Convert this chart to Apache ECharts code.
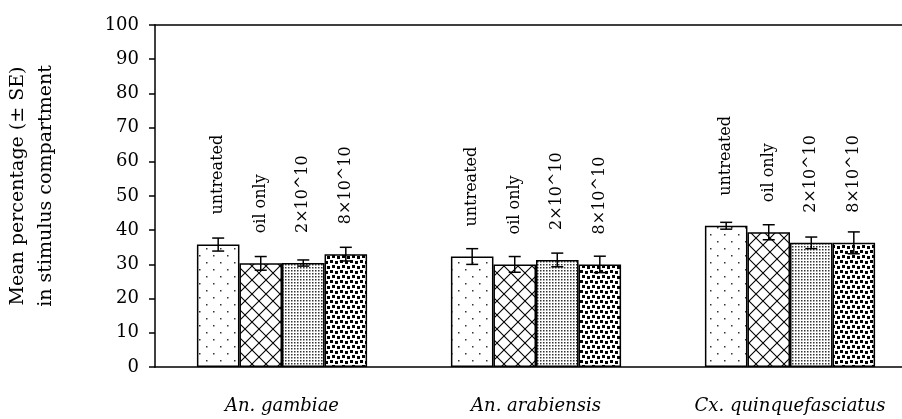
<!DOCTYPE html>
<html>
<head>
<meta charset="utf-8">
<script src="https://cdn.jsdelivr.net/npm/echarts@6.0.0/dist/echarts.min.js"></script>
<style>
  html, body { margin: 0; padding: 0; background: #fff; }
  #chart { width: 902px; height: 419px; }
</style>
</head>
<body>
<div id="chart"></div>
<script>
  // species groups on the x axis
  var species = ["An. gambiae", "An. arabiensis", "Cx. quinquefasciatus"];
  // treatments, one bar series each
  var treatments = ["untreated", "oil only", "2×10^10", "8×10^10"];
  // mean percentage per treatment (order = species)
  var untreated = [35.8, 32.3, 41.3];
  var oilOnly = [30.3, 30.0, 39.4];
  var low = [30.4, 31.3, 36.3];
  var high = [33.0, 30.0, 36.3];
  // standard errors
  var untreatedSE = [1.9, 2.3, 1.0];
  var oilOnlySE = [2.0, 2.3, 2.2];
  var lowSE = [0.9, 2.0, 1.7];
  var highSE = [2.0, 2.4, 3.2];
  var yTicks = [0, 10, 20, 30, 40, 50, 60, 70, 80, 90, 100];

  var means = [untreated, oilOnly, low, high];
  var errs = [untreatedSE, oilOnlySE, lowSE, highSE];

  // fill patterns drawn on little canvases
  function tile(w, h, draw) {
    var c = document.createElement("canvas");
    c.width = w; c.height = h;
    var ctx = c.getContext("2d");
    ctx.fillStyle = "#fff";
    ctx.fillRect(0, 0, w, h);
    ctx.fillStyle = "#000";
    ctx.strokeStyle = "#000";
    draw(ctx);
    return { image: c, repeat: "repeat" };
  }
  var patterns = [
    tile(14, 14, function (ctx) {
      ctx.fillStyle = "#333";
      ctx.fillRect(3, 3, 1.5, 1.5);
      ctx.fillRect(10, 10, 1.5, 1.5);
    }),
    tile(14, 14, function (ctx) {
      ctx.lineWidth = 1.1;
      ctx.beginPath();
      ctx.moveTo(-1, -1); ctx.lineTo(15, 15);
      ctx.moveTo(15, -1); ctx.lineTo(-1, 15);
      ctx.stroke();
    }),
    tile(3, 3, function (ctx) {
      ctx.fillStyle = "#333";
      ctx.fillRect(0, 0, 1.5, 1.5);
    }),
    tile(10, 10, function (ctx) {
      ctx.fillRect(0, 0, 3, 3);
      ctx.fillRect(5, 1, 3, 3);
      ctx.fillRect(2, 5, 3, 3);
      ctx.fillRect(7, 6, 3, 3);
    })
  ];

  var catGap = 0.33;

  var series = treatments.map(function (name, i) {
    return {
      name: name,
      type: "bar",
      barGap: "0%",
      barCategoryGap: catGap * 100 + "%",
      data: means[i],
      itemStyle: { color: patterns[i], borderColor: "#000", borderWidth: 1.5 },
      label: {
        show: true,
        position: "top",
        rotate: 90,
        align: "left",
        verticalAlign: "middle",
        distance: 30,
        formatter: name,
        fontFamily: "DejaVu Serif",
        fontSize: 16,
        color: "#000"
      },
      z: 2
    };
  });

  // error bars
  var errData = [];
  means.forEach(function (arr, s) {
    arr.forEach(function (v, c) {
      errData.push([c, v, errs[s][c], s]);
    });
  });
  series.push({
    type: "custom",
    data: errData,
    z: 5,
    renderItem: function (params, api) {
      var c = api.value(0), v = api.value(1), e = api.value(2), s = api.value(3);
      var band = api.size([1, 0])[0];
      var bw = band * (1 - catGap) / 4;
      var center = api.coord([c, v]);
      var x = center[0] + (s - 1.5) * bw;
      var yTop = api.coord([c, v + e])[1];
      var yBot = api.coord([c, v - e])[1];
      var cap = 6;
      var style = { stroke: "#000", lineWidth: 1.5 };
      return {
        type: "group",
        children: [
          { type: "line", shape: { x1: x, y1: yTop, x2: x, y2: yBot }, style: style },
          { type: "line", shape: { x1: x - cap, y1: yTop, x2: x + cap, y2: yTop }, style: style },
          { type: "line", shape: { x1: x - cap, y1: yBot, x2: x + cap, y2: yBot }, style: style }
        ]
      };
    }
  });

  var chart = echarts.init(document.getElementById("chart"));
  chart.setOption({
    animation: false,
    backgroundColor: "#fff",
    grid: {
      left: 155, top: 25, bottom: 52, width: 762,
      outerBoundsMode: "none",
      containLabel: false,
      show: false
    },
    xAxis: [{
      type: "category",
      data: species,
      axisLine: { lineStyle: { color: "#000", width: 1.5 } },
      axisTick: { length: 8, lineStyle: { color: "#000", width: 1.5 } },
      axisLabel: {
        margin: 30,
        fontFamily: "DejaVu Serif",
        fontStyle: "italic",
        fontSize: 18,
        color: "#000"
      }
    }, {
      // top frame line only
      type: "category",
      data: species,
      position: "top",
      axisLine: { show: true, lineStyle: { color: "#000", width: 1.5 } },
      axisTick: { show: false },
      axisLabel: { show: false }
    }],
    yAxis: {
      type: "value",
      min: yTicks[0],
      max: yTicks[yTicks.length - 1],
      interval: 10,
      splitLine: { show: false },
      axisLine: { show: true, lineStyle: { color: "#000", width: 1.5 } },
      axisTick: { show: true, length: 6, lineStyle: { color: "#000", width: 1.5 } },
      axisLabel: {
        margin: 16,
        fontFamily: "DejaVu Serif",
        fontSize: 18,
        color: "#000"
      },
      name: "Mean percentage (± SE)\nin stimulus compartment",
      nameLocation: "middle",
      nameRotate: 90,
      nameGap: 95,
      nameTextStyle: {
        fontFamily: "DejaVu Serif",
        fontSize: 19,
        lineHeight: 28,
        color: "#000",
        padding: [0, 0, 0, 20]
      }
    },
    series: series
  });
</script>
</body>
</html>
